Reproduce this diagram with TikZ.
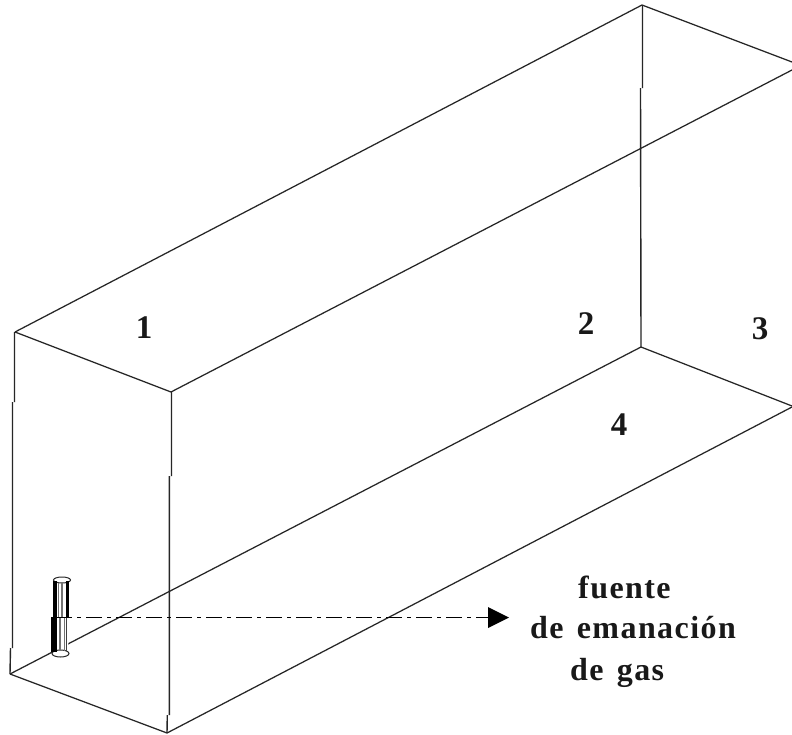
\documentclass[tikz,border=0pt]{standalone}
\usepackage{fontspec}
\setmainfont{Liberation Serif}
\newfontfamily\lblfont[LetterSpace=4.5,WordSpace=1.4]{Liberation Serif}
\tikzset{
  edge/.style={line width=1.25pt,black!85},
  vert/.style={line width=1.4pt,black!85},
  innerline/.style={line width=1.2pt,black!55},
  tube/.style={line width=1pt,black!85},
  num/.style={font=\fontsize{33}{33}\selectfont\bfseries,inner sep=0pt,black!90},
  captext/.style={font=\fontsize{32}{32}\selectfont\lblfont\bfseries,inner sep=0pt,anchor=base west,black!90},
}
\begin{document}
\begin{tikzpicture}[x=1pt,y=-1pt]
\useasboundingbox (0,0) rectangle (792,734);
\fill[white] (0,0) rectangle (792,734);
\coordinate (TFL) at (15,332);
\coordinate (TFR) at (171,392);
\coordinate (TB) at (642,5);
\coordinate (RT) at (792,62);
\coordinate (RM) at (792,70);
\coordinate (BFL) at (10,674);
\coordinate (BFR) at (167,733);
\coordinate (BB) at (641,347);
\coordinate (RB) at (792,406);
\coordinate (RB2) at (792,407);
\draw[edge] (TFL) -- (TB) -- (RT);
\draw[edge] (TFL) -- (TFR) -- (RM);
\draw[edge] (BFL) -- (BB) -- (RB);
\draw[edge] (BFL) -- (BFR) -- (RB2);
\draw[vert] (14.5,332) -- (14.5,402) (12.5,402) -- (12.5,648) (10.5,648) -- (BFL);
\draw[vert] (171.5,392) -- (171.5,476) (169.3,476) -- (169.3,715) (167.3,715) -- (BFR);
\draw[vert] (642.5,5) -- (642.5,88) (640.5,88) -- (BB);
% gas source tube
\fill[white] (53,581) -- (70,581) -- (68,653) -- (52,653) -- cycle;
\draw[tube,fill=white] (60.5,653.5) ellipse[x radius=8.5,y radius=3.5];
\draw[tube,fill=white] (62,580) ellipse[x radius=8.5,y radius=3];
\draw[line width=3.2pt] (55,581) -- (55,617);
\draw[line width=3pt] (67.5,581) -- (67.5,617);
\draw[line width=6pt] (54,617) -- (54,652);
\draw[innerline] (58.5,583) -- (58.5,617) (62,583) -- (62,617);
\draw[innerline] (60,617) -- (60,651) (64.5,617) -- (64.5,651);
\draw[line width=1.5pt,black!75] (66.5,617) -- (66.5,651);
\coordinate (src) at (56,617.5);
\coordinate (tip) at (509,617.5);
\draw[line width=1.4pt,dash pattern=on 16pt off 5pt on 4pt off 5pt] (src) -- (490,617.5);
\fill (488,607) -- (tip) -- (488,628) -- cycle;
\node[num] (n1) at (144,328) {1};
\node[num] (n2) at (586,324) {2};
\node[num] (n3) at (760,329) {3};
\node[num] (n4) at (619,425) {4};
\node[captext] (c1) at (578,598) {fuente};
\node[captext] (c2) at (530,638) {de emanación};
\node[captext] (c3) at (570,680) {de gas};
\end{tikzpicture}
\end{document}
